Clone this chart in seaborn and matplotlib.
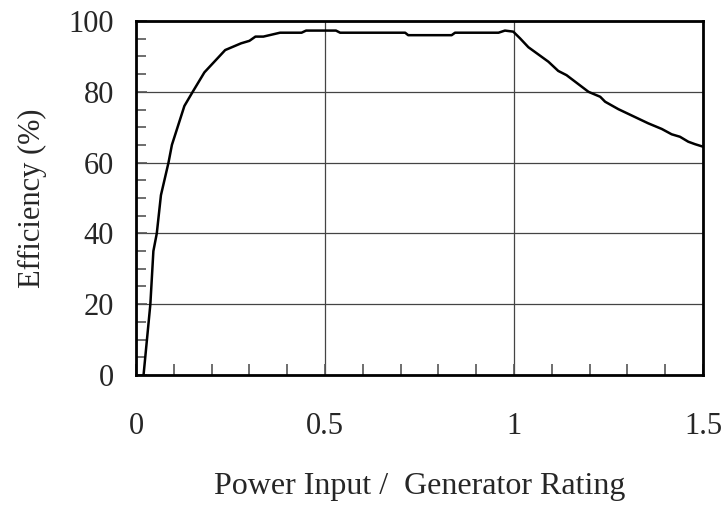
import numpy as np
import pandas as pd
import seaborn as sns
import matplotlib.pyplot as plt
from matplotlib.ticker import MultipleLocator

# efficiency curve
power_ratio = [0.020, 0.038, 0.046, 0.055, 0.066, 0.086, 0.095, 0.128, 0.150, 0.181,
               0.236, 0.278, 0.300, 0.316, 0.337, 0.381, 0.438, 0.450, 0.529, 0.540,
               0.712, 0.720, 0.835, 0.844, 0.959, 0.976, 0.998, 1.016, 1.038, 1.091,
               1.117, 1.139, 1.197, 1.228, 1.241, 1.276, 1.355, 1.391, 1.417, 1.439,
               1.461, 1.479, 1.500]
efficiency = [0.0, 20.0, 35.0, 40.0, 50.8, 60.0, 65.0, 76.0, 80.0, 85.5,
              91.8, 93.7, 94.4, 95.6, 95.6, 96.7, 96.7, 97.3, 97.3, 96.7,
              96.7, 96.0, 96.0, 96.7, 96.7, 97.3, 97.0, 95.1, 92.6, 88.5,
              85.9, 84.7, 80.0, 78.6, 77.2, 75.1, 71.1, 69.5, 68.0, 67.3,
              65.9, 65.2, 64.5]

df = pd.DataFrame({"ratio": power_ratio, "eff": efficiency})

sns.set_style("white")
plt.rcParams['font.family'] = ['Liberation Serif', 'DejaVu Serif']

fig = plt.figure(figsize=(7.28, 5.09), dpi=100, facecolor='w')
ax = fig.add_axes([0.1868, 0.2633, 0.7789, 0.6954])

sns.lineplot(data=df, x="ratio", y="eff", color='black', linewidth=1.8, ax=ax, sort=False)

ax.set_xlim(0, 1.5)
ax.set_ylim(0, 100)
ax.xaxis.set_major_locator(MultipleLocator(0.5))
ax.xaxis.set_minor_locator(MultipleLocator(0.1))
ax.yaxis.set_major_locator(MultipleLocator(20))
ax.yaxis.set_minor_locator(MultipleLocator(5))
ax.set_xticks([0, 0.5, 1, 1.5])
ax.set_xticklabels(['0', '0.5', '1', '1.5'])

ax.grid(True, which='major', color='#444444', linewidth=0.9)
ax.tick_params(which='both', direction='in', color='#555555', width=1.2,
               labelsize=22, bottom=True, left=True, top=False, right=False)
ax.tick_params(axis='x', which='major', length=8, pad=27)
ax.tick_params(axis='x', which='minor', length=8)
ax.tick_params(axis='y', which='major', length=8, pad=16)
ax.tick_params(axis='y', which='minor', length=7)

for sp in ax.spines.values():
    sp.set_color('black')
    sp.set_linewidth(2)

ax.set_xlabel('Power Input /  Generator Rating', fontsize=23, labelpad=22)
ax.set_ylabel('Efficiency (%)', fontsize=22, labelpad=15)

plt.savefig("out.png", dpi=100, facecolor='w')
